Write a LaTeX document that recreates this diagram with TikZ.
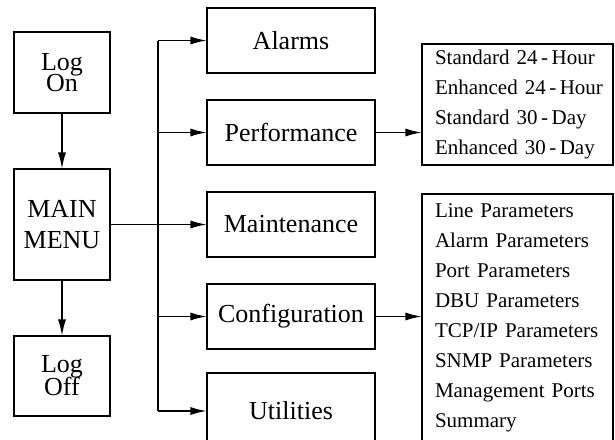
\documentclass[tikz,border=0pt]{standalone}
\usepackage{fontspec}
\setmainfont{Liberation Serif}
\usetikzlibrary{arrows.meta}
\begin{document}
\begin{tikzpicture}[x=1pt,y=-1pt,
  box/.style={draw,line width=1.2pt,inner sep=0pt,align=center,font=\fontsize{26}{26}\selectfont},
  listbox/.style={draw,line width=1.2pt,inner xsep=13pt,inner ysep=0pt,align=left,text width=165pt,font=\fontsize{21}{30}\selectfont},
  arr/.style={line width=1.2pt,-{Latex[length=16pt,width=8pt]}},
  ln/.style={line width=1.2pt}]
\useasboundingbox (0,0) rectangle (615,439);
\clip (0,0) rectangle (615,439);
% left column
\node[box,minimum width=96pt,minimum height=81pt] (logon) at (62,72.5) {Log\\[-5pt]On};
\node[box,minimum width=96pt,minimum height=111pt] (main) at (62,224.5) {MAIN\\[5pt]MENU};
\node[box,minimum width=96pt,minimum height=80pt] (logoff) at (62,376) {Log\\[-3pt]Off};
% middle column
\node[box,minimum width=168pt,minimum height=65pt] (alarms) at (291,40.5) {Alarms};
\node[box,minimum width=168pt,minimum height=65pt] (perf) at (291,132.5) {Performance};
\node[box,minimum width=168pt,minimum height=65pt] (maint) at (291,224.5) {Maintenance};
\node[box,minimum width=168pt,minimum height=65pt] (config) at (291,316.5) {Configuration};
\node[box,minimum width=168pt,minimum height=76pt] (util) at (291,411) {Utilities};
% right column
\node[listbox,minimum height=121pt] (perfsub) at (517.5,104.5) {\mbox{Standard 24\,-\,Hour}\\\mbox{Enhanced 24\,-\,Hour}\\\mbox{Standard 30\,-\,Day}\\\mbox{Enhanced 30\,-\,Day}};
\node[listbox,minimum height=248pt] (confsub) at (517.5,318) {\mbox{Line Parameters}\\\mbox{Alarm Parameters}\\\mbox{Port Parameters}\\\mbox{DBU Parameters}\\\mbox{TCP/IP Parameters}\\\mbox{SNMP Parameters}\\\mbox{Management Ports}\\\mbox{Summary}};
% connectors
\coordinate (t) at (158,0);
\draw[arr] (logon) -- (main);
\draw[arr] (main) -- (logoff);
\draw[arr] (main.east) -- (maint.west);
\draw[ln] (t |- alarms.west) -- (t |- util.west);
\draw[arr] (t |- alarms.west) -- (alarms.west);
\draw[arr] (t |- perf.west) -- (perf.west);
\draw[arr] (t |- config.west) -- (config.west);
\draw[arr] (t |- util.west) -- (util.west);
\draw[arr] (perf.east) -- (perf.east -| perfsub.west);
\draw[arr] (config.east) -- (config.east -| confsub.west);
\end{tikzpicture}
\end{document}
